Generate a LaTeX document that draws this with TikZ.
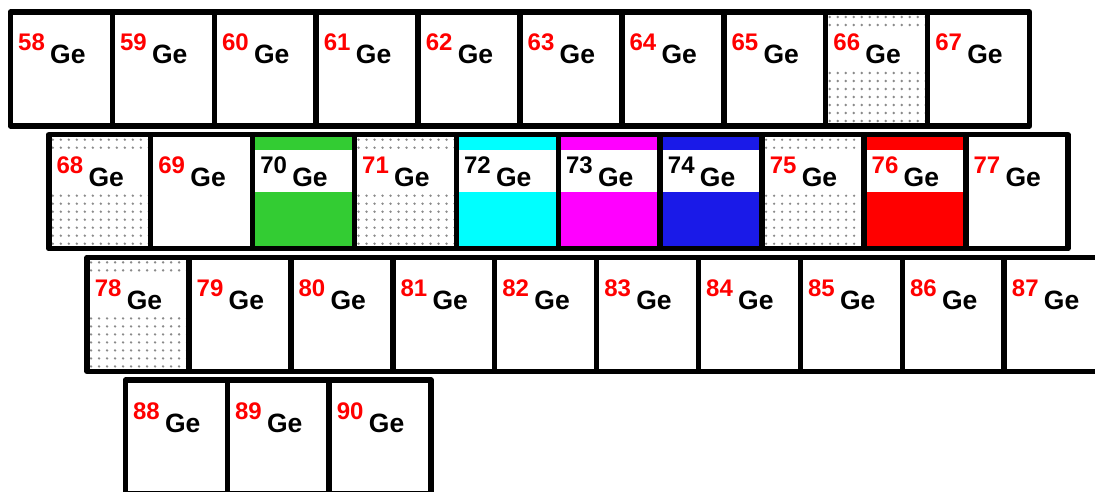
\documentclass[tikz,border=0pt]{standalone}
\usepackage{fontspec}
\setmainfont{Liberation Sans}
\usetikzlibrary{calc}
\definecolor{ggreen}{HTML}{33CC33}
\definecolor{gcyan}{HTML}{00FFFF}
\definecolor{gmagenta}{HTML}{FF00FF}
\definecolor{gblue}{HTML}{1A1AE8}
\definecolor{gred}{HTML}{FF0000}
\definecolor{dotgray}{HTML}{8A8A8A}
\tikzset{
  cellbox/.style={minimum width=101.9pt, minimum height=114pt, inner sep=0pt, outer sep=0pt, anchor=north west},
  border/.style={line width=5.5pt, line join=round, draw=black},
  numlabel/.style={anchor=base west, inner sep=0pt, font=\bfseries\fontsize{24}{24}\selectfont},
  gelabel/.style={anchor=base west, inner sep=0pt, font=\bfseries\fontsize{26.5}{26.5}\selectfont, text=black},
  dot/.style={fill=dotgray},
}
\begin{document}
\begin{tikzpicture}[x=1pt,y=-1pt]
\useasboundingbox (0,0) rectangle (1095,492);
\fill[white] (0,0) rectangle (1095,492);
\clip (0,0) rectangle (1095,492);
% cells
\foreach \row/\first/\n in {0/58/10, 1/68/10, 2/78/10, 3/88/3} {
  \foreach \i in {1,...,\n} {
    \pgfmathtruncatemacro\num{\first+\i-1}
    \node[cellbox] (c\num) at ({10.5+38.3*\row+101.9*(\i-1)}, {12+122.7*\row}) {};
  }
}
% coloured cells
\foreach \num/\col in {70/ggreen,72/gcyan,73/gmagenta,74/gblue,76/gred} {
  \fill[\col] (c\num.north west) rectangle (c\num.south east);
  \fill[white] ($(c\num.north west)+(0,15.5)$) rectangle ($(c\num.north east)+(0,57.5)$);
}
% dotted cells
\foreach \num in {66,68,71,75,78} {
  \begin{scope}
    \clip (c\num.north west) rectangle (c\num.south east);
    \foreach \yy in {0,...,14} {
      \foreach \xx in {0,...,13} {
        \pgfmathsetmacro\dx{\xx*8+4}
        \pgfmathsetmacro\dy{\yy*8+5}
        \fill[dot] ($(c\num.north west)+(\dx,\dy)$) circle (1.3pt);
      }
    }
    \fill[white] ($(c\num.north west)+(0,15.5)$) rectangle ($(c\num.north east)+(0,57.5)$);
  \end{scope}
}
% labels
\foreach \first/\n in {58/10, 68/10, 78/10, 88/3} {
  \foreach \i in {1,...,\n} {
    \pgfmathtruncatemacro\num{\first+\i-1}
    \def\tc{gred}
    \ifnum\num=70 \def\tc{black}\fi
    \ifnum\num=72 \def\tc{black}\fi
    \ifnum\num=73 \def\tc{black}\fi
    \ifnum\num=74 \def\tc{black}\fi
    \node[numlabel, text=\tc] (n\num) at ($(c\num.north west)+(7.5,39)$) {\num};
    \node[gelabel] (g\num) at ($(c\num.north west)+(39.5,52)$) {Ge};
  }
}
% borders
\foreach \first/\n in {58/10, 68/10, 78/10, 88/3} {
  \foreach \i in {1,...,\n} {
    \pgfmathtruncatemacro\num{\first+\i-1}
    \draw[border] (c\num.north west) rectangle (c\num.south east);
  }
}
\end{tikzpicture}
\end{document}
